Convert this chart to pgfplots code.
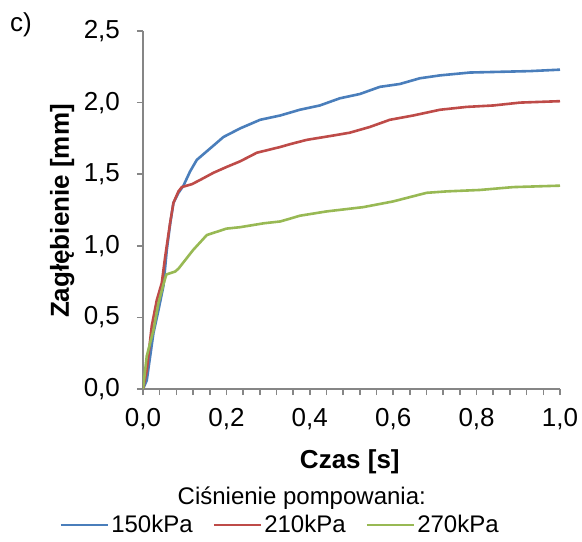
\documentclass[border=0pt]{standalone}
\usepackage{pgfplots}
\pgfplotsset{compat=1.18}
\usepackage{fontspec}
\setmainfont{Liberation Sans}

\definecolor{cblue}{RGB}{74,126,187}
\definecolor{cred}{RGB}{190,75,72}
\definecolor{cgreen}{RGB}{152,185,84}
\definecolor{axgray}{RGB}{134,134,134}

\begin{document}
\begin{tikzpicture}
% fix page to the reference proportions (1 px = 0.5 pt)
\path[use as bounding box] (-71.5pt,-76pt) rectangle (219.5pt,194.5pt);
\begin{axis}[
    name=ax,
    scale only axis,
    width=208.5pt, height=179pt,
    xmin=0, xmax=1, ymin=0, ymax=2.5,
    enlargelimits=false,
    axis lines=left,
    axis line style={-, axgray, line width=0.8pt},
    tick style={axgray, line width=0.8pt},
    tick align=outside,
    major tick length=3pt, minor tick length=3pt,
    xtick={0,0.2,0.4,0.6,0.8,1.0},
    minor x tick num=4,
    ytick={0,0.5,1.0,1.5,2.0,2.5},
    /pgf/number format/.cd, use comma, fixed, fixed zerofill, precision=1, assume math mode=true,
    /pgfplots/.cd,
    ticklabel style={font=\fontsize{13}{15}\selectfont, black},
    xticklabel style={yshift=-3pt},
    yticklabel style={xshift=-5pt},
    xlabel={Czas [s]},
    ylabel={Zagłębienie [mm]},
    label style={font=\fontsize{13}{15}\selectfont\bfseries},
    xlabel style={at={(axis description cs:0.496,-0.204)}, anchor=center},
    ylabel style={at={(axis description cs:-0.194,0.497)}, anchor=center, rotate=0},
    legend columns=3,
    legend style={at={(axis description cs:0.329,-0.38)}, anchor=center, draw=none,
        font=\fontsize{12}{14}\selectfont, inner sep=0pt,
        /tikz/every even column/.append style={column sep=9pt},
        nodes={inner sep=1pt}},
    legend image code/.code={\draw[#1] (0pt,0pt) -- (23.5pt,0pt);},
    every axis plot/.append style={line width=1.3pt, line join=round},
]
\addplot[cblue] coordinates {
(0,0) (0.009,0.06) (0.025,0.39) (0.037,0.55) (0.049,0.72) (0.057,0.97)
(0.065,1.15) (0.073,1.30) (0.085,1.37) (0.097,1.42) (0.113,1.52) (0.129,1.60)
(0.153,1.66) (0.193,1.76) (0.233,1.82) (0.281,1.88) (0.329,1.91) (0.376,1.95)
(0.424,1.98) (0.472,2.03) (0.520,2.06) (0.568,2.11) (0.616,2.13) (0.664,2.17)
(0.712,2.19) (0.784,2.21) (0.856,2.215) (0.928,2.22) (1.0,2.23)
};
\addlegendentry{150kPa}
\addplot[cred] coordinates {
(0,0) (0.009,0.13) (0.021,0.44) (0.033,0.62) (0.045,0.74) (0.053,0.92)
(0.065,1.16) (0.073,1.30) (0.085,1.38) (0.093,1.41) (0.117,1.43) (0.137,1.46)
(0.169,1.51) (0.2,1.55) (0.233,1.59) (0.273,1.65) (0.329,1.69) (0.353,1.71)
(0.393,1.74) (0.456,1.77) (0.496,1.79) (0.544,1.83) (0.592,1.88) (0.648,1.91)
(0.712,1.95) (0.776,1.97) (0.84,1.98) (0.904,2.00) (1.0,2.01)
};
\addlegendentry{210kPa}
\addplot[cgreen] coordinates {
(0,0) (0.009,0.23) (0.025,0.41) (0.037,0.60) (0.049,0.73) (0.056,0.80)
(0.077,0.82) (0.085,0.84) (0.12,0.97) (0.153,1.075) (0.2,1.12) (0.233,1.13)
(0.289,1.157) (0.329,1.17) (0.353,1.19) (0.376,1.21) (0.44,1.24) (0.528,1.27)
(0.6,1.31) (0.68,1.37) (0.728,1.38) (0.808,1.39) (0.888,1.41) (1.0,1.42)
};
\addlegendentry{270kPa}
\end{axis}
\node[font=\fontsize{12}{14}\selectfont] at (79.4pt,-54.4pt) {Ciśnienie pompowania:};
\node[font=\fontsize{13}{15}\selectfont] at (-61pt,182pt) {c)};
\end{tikzpicture}
\end{document}
